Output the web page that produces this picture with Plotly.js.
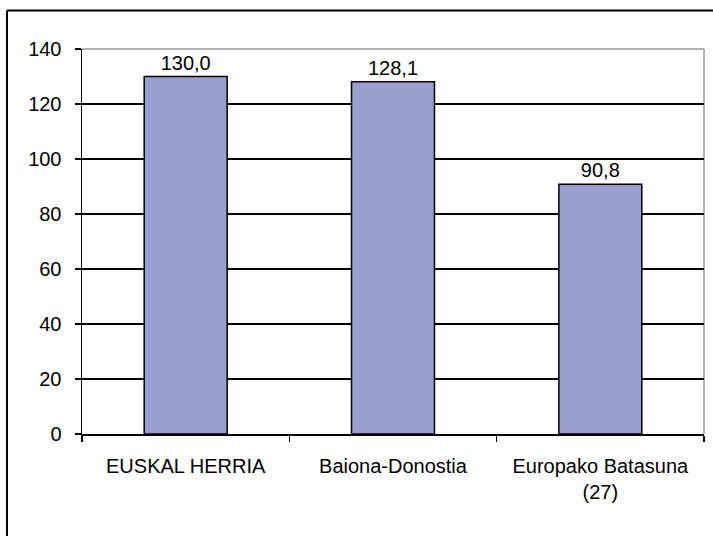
<!DOCTYPE html>
<html>
<head>
<meta charset="utf-8">
<script src="https://cdn.plot.ly/plotly-3.0.1.min.js"></script>
<style>
html,body{margin:0;padding:0;background:#fff;}
#chart{width:713px;height:536px;}
</style>
</head>
<body>
<div id="chart"></div>
<script>
const categories = ["EUSKAL HERRIA", "Baiona-Donostia", "Europako Batasuna<br>(27)"];
const values = [130.0, 128.1, 90.8];
const valueLabels = ["130,0", "128,1", "90,8"];
const yTickValues = [0, 20, 40, 60, 80, 100, 120, 140];

const FONT = "Arial, 'Liberation Sans', sans-serif";

const trace = {
  type: "bar",
  x: categories,
  y: values,
  text: valueLabels,
  textposition: "outside",
  cliponaxis: false,
  textfont: {family: FONT, size: 20, color: "#000"},
  marker: {color: "#9B9FCF", line: {color: "#000", width: 1.5}},
  width: 0.4,
  hoverinfo: "skip"
};

const layout = {
  width: 713,
  height: 536,
  margin: {l: 82, r: 9, t: 49, b: 102},
  paper_bgcolor: "#fff",
  plot_bgcolor: "#fff",
  showlegend: false,
  font: {family: FONT, size: 20, color: "#000"},
  xaxis: {
    type: "category",
    tickson: "boundaries",
    ticks: "outside",
    ticklen: 6,
    tickcolor: "#000",
    tickwidth: 1.5,
    showgrid: false,
    showline: true,
    linecolor: "#000",
    linewidth: 1.5,
    ticklabelstandoff: 13,
    tickfont: {family: FONT, size: 20, color: "#000"},
    fixedrange: true
  },
  yaxis: {
    range: [0, 140],
    tickvals: yTickValues,
    ticktext: yTickValues.map(String),
    ticks: "outside",
    ticklen: 6,
    tickcolor: "#000",
    tickwidth: 1.5,
    showgrid: true,
    gridcolor: "#000",
    gridwidth: 1.3,
    showline: true,
    linecolor: "#000",
    linewidth: 1.5,
    zeroline: false,
    ticklabelstandoff: 9,
    tickfont: {family: FONT, size: 20, color: "#000"},
    fixedrange: true
  },
  shapes: [
    {type: "line", xref: "paper", yref: "paper", x0: 0, x1: 1, y0: 1, y1: 1, line: {color: "#999", width: 1.5}, layer: "above"},
    {type: "line", xref: "paper", yref: "paper", x0: 1, x1: 1, y0: 0, y1: 1, line: {color: "#999", width: 1.5}, layer: "below"},
    {type: "line", xref: "paper", yref: "paper", x0: -0.1206, x1: 1.02, y0: 1.1, y1: 1.1, line: {color: "#000", width: 2}},
    {type: "line", xref: "paper", yref: "paper", x0: -0.1206, x1: -0.1206, y0: 1.1, y1: -0.28, line: {color: "#000", width: 2}}
  ]
};

Plotly.newPlot("chart", [trace], layout, {displayModeBar: false, staticPlot: true});
</script>
</body>
</html>
